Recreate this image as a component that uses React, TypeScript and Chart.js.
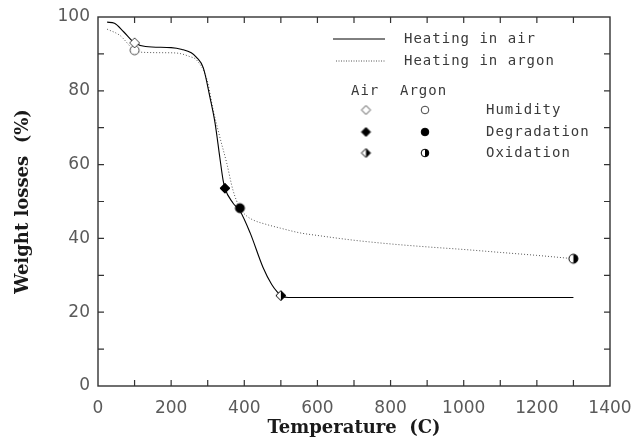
import React, { useEffect, useRef } from "react";
import { Chart, registerables } from "chart.js";

Chart.register(...registerables);

// ---- data ----
const airTemps = [25, 45, 70, 100, 130, 200, 230, 255, 270, 288, 306, 320, 333, 342, 347, 369, 388, 416, 451, 475, 490, 503, 520, 1300];
const airWeights = [98.6, 98.3, 96, 93, 92, 91.7, 91.2, 90.3, 89, 86.2, 78.3, 71.3, 62, 55.8, 53.6, 49.6, 47.5, 41.5, 32.2, 27.5, 25.5, 24.3, 24, 24];

const argonTemps = [25, 60, 100, 130, 200, 224, 250, 270, 298, 315, 333, 352, 369, 388, 405, 424, 460, 498, 552, 600, 700, 800, 900, 1000, 1100, 1200, 1300];
const argonWeights = [96.7, 95, 91, 90.4, 90.3, 90.1, 89.3, 88.3, 83, 74.8, 67.5, 60.4, 53.1, 48.2, 46.2, 45, 43.8, 42.8, 41.5, 40.8, 39.5, 38.5, 37.7, 37, 36.2, 35.4, 34.5];

const stageLabels = ["Humidity", "Degradation", "Oxidation"];
const airStageTemps = [100, 347, 500];
const airStageWeights = [93, 53.6, 24.5];
const argonStageTemps = [100, 388, 1300];
const argonStageWeights = [91, 48.2, 34.5];

const seriesLabels = ["Heating in air", "Heating in argon"];
const legendHeaders = ["Air", "Argon"];

const xMin = 0, xMax = 1400, xStep = 200, xMinorStep = 100;
const yMin = 0, yMax = 100, yStep = 20, yMinorStep = 10;

type Shape = "diamond" | "circle";
type Fill = "none" | "full" | "half";

function makeMarker(shape: Shape, fill: Fill, r: number): HTMLCanvasElement {
  const s = Math.ceil(r * 2 + 4);
  const c = document.createElement("canvas");
  c.width = s;
  c.height = s;
  const ctx = c.getContext("2d")!;
  const cx = s / 2, cy = s / 2;
  const path = () => {
    ctx.beginPath();
    if (shape === "diamond") {
      ctx.moveTo(cx, cy - r);
      ctx.lineTo(cx + r, cy);
      ctx.lineTo(cx, cy + r);
      ctx.lineTo(cx - r, cy);
      ctx.closePath();
    } else {
      ctx.arc(cx, cy, r, 0, Math.PI * 2);
    }
  };
  path();
  ctx.fillStyle = "#fff";
  ctx.fill();
  if (fill === "full") {
    ctx.fillStyle = "#000";
    ctx.fill();
  } else if (fill === "half") {
    ctx.save();
    ctx.beginPath();
    ctx.rect(cx, 0, s, s);
    ctx.clip();
    path();
    ctx.fillStyle = "#000";
    ctx.fill();
    ctx.restore();
  }
  path();
  ctx.strokeStyle = fill === "none" ? "#444" : "#000";
  ctx.lineWidth = 1;
  ctx.stroke();
  return c;
}

export default function App() {
  const ref = useRef<HTMLCanvasElement | null>(null);

  useEffect(() => {
    document.body.style.margin = "0";
    const fills: Fill[] = ["none", "full", "half"];
    const airMarks = fills.map((f) => makeMarker("diamond", f, 5));
    const argonMarks = fills.map((f) => makeMarker("circle", f, 4.5));
    const airLegendMarks = fills.map((f) => makeMarker("diamond", f, 4.5));
    const argonLegendMarks = fills.map((f) => makeMarker("circle", f, 3.8));

    const framePlugin = {
      id: "frame",
      beforeDatasetsDraw(chart: any) {
        const { ctx, chartArea } = chart;
        const { left, right, top, bottom } = chartArea;
        const xs = chart.scales.x;
        const ys = chart.scales.y;
        ctx.save();
        ctx.strokeStyle = "#333";
        ctx.lineWidth = 1.4;
        ctx.strokeRect(left, top, right - left, bottom - top);
        ctx.lineWidth = 1.2;
        const tl = 6;
        ctx.beginPath();
        for (let v = xMin + xMinorStep; v < xMax; v += xMinorStep) {
          const px = xs.getPixelForValue(v);
          ctx.moveTo(px, bottom);
          ctx.lineTo(px, bottom - tl);
          ctx.moveTo(px, top);
          ctx.lineTo(px, top + tl);
        }
        for (let v = yMin + yMinorStep; v < yMax; v += yMinorStep) {
          const py = ys.getPixelForValue(v);
          ctx.moveTo(left, py);
          ctx.lineTo(left + tl, py);
          ctx.moveTo(right, py);
          ctx.lineTo(right - tl, py);
        }
        ctx.stroke();
        ctx.restore();
      },
      afterDraw(chart: any) {
        const { ctx } = chart;
        ctx.save();
        ctx.font = "14px 'DejaVu Sans Mono'";
        (ctx as any).letterSpacing = "1px";
        ctx.fillStyle = "#3a3a3a";
        ctx.textBaseline = "middle";
        ctx.textAlign = "left";
        ctx.strokeStyle = "#000";
        ctx.lineWidth = 1;
        ctx.beginPath();
        ctx.moveTo(333, 39);
        ctx.lineTo(385, 39);
        ctx.stroke();
        ctx.strokeStyle = "#555";
        ctx.setLineDash([1, 1.5]);
        ctx.beginPath();
        ctx.moveTo(336, 61);
        ctx.lineTo(385, 61);
        ctx.stroke();
        ctx.setLineDash([]);
        ctx.fillText(seriesLabels[0], 404, 39);
        ctx.fillText(seriesLabels[1], 404, 61);
        ctx.fillText(legendHeaders[0], 351, 91);
        ctx.fillText(legendHeaders[1], 400, 91);
        const rows = [110, 132, 153];
        stageLabels.forEach((lab, i) => {
          const y = rows[i];
          const a = airLegendMarks[i];
          const b = argonLegendMarks[i];
          ctx.drawImage(a, 366 - a.width / 2, y - a.height / 2);
          ctx.drawImage(b, 425 - b.width / 2, y - b.height / 2);
          ctx.fillText(lab, 486, y);
        });
        ctx.restore();
      },
    };

    const tickFont = { family: "'DejaVu Sans'", size: 17 };
    const titleFont = { family: "'DejaVu Serif'", size: 18, weight: "bold" as const };

    const chart = new Chart(ref.current!, {
      type: "scatter",
      data: {
        datasets: [
          {
            label: "Air stages",
            data: airStageTemps.map((x, i) => ({ x, y: airStageWeights[i] })),
            pointStyle: airMarks as any,
            pointRadius: 5,
            showLine: false,
          },
          {
            label: "Argon stages",
            data: argonStageTemps.map((x, i) => ({ x, y: argonStageWeights[i] })),
            pointStyle: argonMarks as any,
            pointRadius: 5,
            showLine: false,
          },
          {
            label: seriesLabels[0],
            data: airTemps.map((x, i) => ({ x, y: airWeights[i] })),
            showLine: true,
            borderColor: "#000",
            borderWidth: 1.1,
            pointRadius: 0,
            cubicInterpolationMode: "monotone",
          },
          {
            label: seriesLabels[1],
            data: argonTemps.map((x, i) => ({ x, y: argonWeights[i] })),
            showLine: true,
            borderColor: "#555",
            borderWidth: 1,
            borderDash: [1, 2],
            pointRadius: 0,
            cubicInterpolationMode: "monotone",
          },
        ] as any,
      },
      options: {
        animation: false,
        responsive: true,
        maintainAspectRatio: false,
        layout: { padding: { left: 0, right: 23, top: 17, bottom: 0 } },
        plugins: {
          legend: { display: false },
          tooltip: { enabled: false },
        },
        scales: {
          x: {
            type: "linear",
            min: xMin,
            max: xMax,
            ticks: {
              stepSize: xStep,
              color: "#5a5a5a",
              font: tickFont,
              padding: 12,
              maxRotation: 0,
              callback: (v: any) => String(v),
            },
            grid: { display: false, drawTicks: false },
            border: { display: false },
            title: {
              display: true,
              text: "Temperature  (C)",
              color: "#1a1a1a",
              font: titleFont,
              padding: { top: 0, bottom: 2 },
            },
            afterFit(scale: any) {
              scale.height = 55;
              scale.paddingLeft = 0;
              scale.paddingRight = 0;
            },
          },
          y: {
            type: "linear",
            min: yMin,
            max: yMax,
            ticks: {
              stepSize: yStep,
              color: "#5a5a5a",
              font: tickFont,
              padding: 8,
              callback: (v: any) => String(v),
            },
            grid: { display: false, drawTicks: false },
            border: { display: false },
            title: {
              display: true,
              text: "Weight losses  (%)",
              color: "#1a1a1a",
              font: titleFont,
              padding: { top: 13, bottom: 0 },
            },
            afterFit(scale: any) {
              scale.width = 98;
              scale.paddingTop = 0;
              scale.paddingBottom = 0;
            },
          },
        },
      },
      plugins: [framePlugin],
    });
    return () => chart.destroy();
  }, []);

  return (
    <div style={{ position: "relative", width: 633, height: 441, background: "#fff" }}>
      <canvas ref={ref} />
    </div>
  );
}
